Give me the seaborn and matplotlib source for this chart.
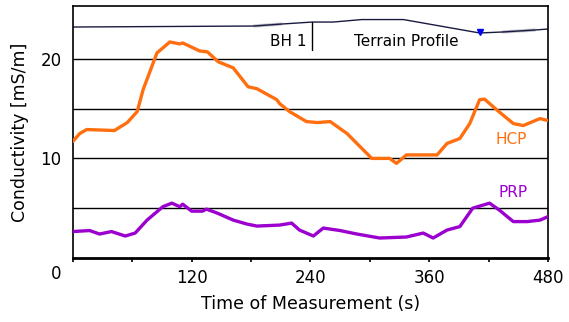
import matplotlib
matplotlib.use("Agg")
import matplotlib.pyplot as plt
import matplotlib.transforms as mtransforms
import seaborn as sns
import pandas as pd

# HCP conductivity (mS/m) vs time (s)
hcp_t = [0, 7, 14, 42, 55, 65, 71, 85, 98, 108, 111, 128, 136, 147, 162, 177, 186, 206, 209, 219,
         236, 247, 260, 277, 290, 302, 320, 327, 337, 368, 378, 391, 401, 411, 416, 428, 445, 455, 472, 480]
hcp_v = [11.7, 12.5, 12.9, 12.8, 13.6, 14.7, 16.9, 20.6, 21.7, 21.5, 21.6, 20.8, 20.7, 19.7, 19.1, 17.2, 17.0, 15.9, 15.5, 14.7,
         13.7, 13.6, 13.7, 12.5, 11.2, 10.0, 10.0, 9.5, 10.35, 10.35, 11.5, 12.0, 13.5, 15.9, 15.95, 14.9, 13.5, 13.3, 14.0, 13.8]

# PRP conductivity (mS/m) vs time (s)
prp_t = [0, 17, 27, 39, 53, 63, 75, 91, 100, 108, 111, 120, 131, 135, 146, 162, 176, 186, 209, 221,
         229, 243, 253, 270, 287, 310, 337, 354, 364, 378, 391, 404, 421, 431, 445, 459, 472, 480]
prp_v = [2.65, 2.75, 2.4, 2.65, 2.2, 2.5, 3.8, 5.15, 5.5, 5.15, 5.4, 4.7, 4.7, 4.9, 4.5, 3.8, 3.4, 3.2, 3.3, 3.5,
         2.8, 2.2, 3.0, 2.75, 2.4, 2.0, 2.1, 2.5, 2.0, 2.8, 3.15, 5.0, 5.5, 4.8, 3.65, 3.65, 3.8, 4.15]

# Terrain profile (schematic, plotted on conductivity scale)
terr_t = [0, 183, 183, 211, 211, 242, 263, 292, 334, 411, 434, 434, 467, 467, 480]
terr_v = [23.2, 23.2, 23.4, 23.4, 23.6, 23.7, 23.7, 23.95, 23.95, 22.6, 22.6, 22.8, 22.8, 23.0, 23.0]

bh_t = 241.5
bh_range = [20.9, 23.7]
marker_t, marker_v = 411, 22.65

grid_levels = [5, 10, 15, 20]
xticks = [0, 120, 240, 360, 480]
xtick_labels = ["", "120", "240", "360", "480"]
xminor = [60, 180, 300, 420]
ytick_vals = [0, 10, 20]
ytick_labels = ["0", "10", "20"]

hcp_color = "#ff6f0f"
prp_color = "#9b00cf"
font = ["DejaVu Sans"]

sns.set_theme(style="white")
plt.rcParams["font.family"] = font
plt.rcParams["text.color"] = "black"
plt.rcParams["axes.labelcolor"] = "black"
plt.rcParams["xtick.color"] = "black"
plt.rcParams["ytick.color"] = "black"

fig = plt.figure(figsize=(5.69, 3.22), dpi=100)
ax = fig.add_axes([0.128, 0.199, 0.835, 0.782])

for g in grid_levels:
    ax.axhline(g, color="black", lw=1.0, zorder=1)

df_h = pd.DataFrame({"t": hcp_t, "v": hcp_v})
df_p = pd.DataFrame({"t": prp_t, "v": prp_v})
df_tr = pd.DataFrame({"t": terr_t, "v": terr_v})
sns.lineplot(data=df_h, x="t", y="v", ax=ax, color=hcp_color, lw=2.4, sort=False, zorder=3)
sns.lineplot(data=df_p, x="t", y="v", ax=ax, color=prp_color, lw=2.4, sort=False, zorder=3)
sns.lineplot(data=df_tr, x="t", y="v", ax=ax, color="#1a1a40", lw=1.0, sort=False, zorder=2)
ax.plot([bh_t, bh_t], bh_range, color="black", lw=1.0)
ax.plot([marker_t], [marker_v], marker="v", color="#0000ee", ms=4)

ax.text(218, 21.7, "BH 1", ha="center", va="center", fontsize=11, color="black")
ax.text(337, 21.7, "Terrain Profile", ha="center", va="center", fontsize=11, color="black")
ax.text(443, 11.9, "HCP", ha="center", va="center", fontsize=11, color=hcp_color)
ax.text(445, 6.6, "PRP", ha="center", va="center", fontsize=11, color=prp_color)

ax.set_xlim(0, 480)
ax.set_ylim(0, 25.3)
ax.set_xticks(xticks)
ax.set_xticklabels(xtick_labels)
ax.set_xticks(xminor, minor=True)
ax.set_yticks(ytick_vals)
ax.set_yticklabels(ytick_labels)
ax.tick_params(axis="x", which="both", direction="out", length=3, width=1.2, color="black",
               bottom=True, labelsize=12, pad=5)
ax.tick_params(axis="y", length=0, labelsize=12, pad=8)
# the shared origin label sits a little below the axis corner
zero_lbl = ax.get_yticklabels()[0]
zero_lbl.set_transform(zero_lbl.get_transform() +
                       mtransforms.ScaledTranslation(0, -10 / 72, fig.dpi_scale_trans))
ax.set_xlabel("Time of Measurement (s)", fontsize=12.5, labelpad=6)
ax.set_ylabel("Conductivity [mS/m]", fontsize=12.5, labelpad=8)
for s in ax.spines.values():
    s.set_color("black")
    s.set_linewidth(1.2)
ax.spines["bottom"].set_linewidth(2.0)

fig.savefig("out.png", dpi=100)
